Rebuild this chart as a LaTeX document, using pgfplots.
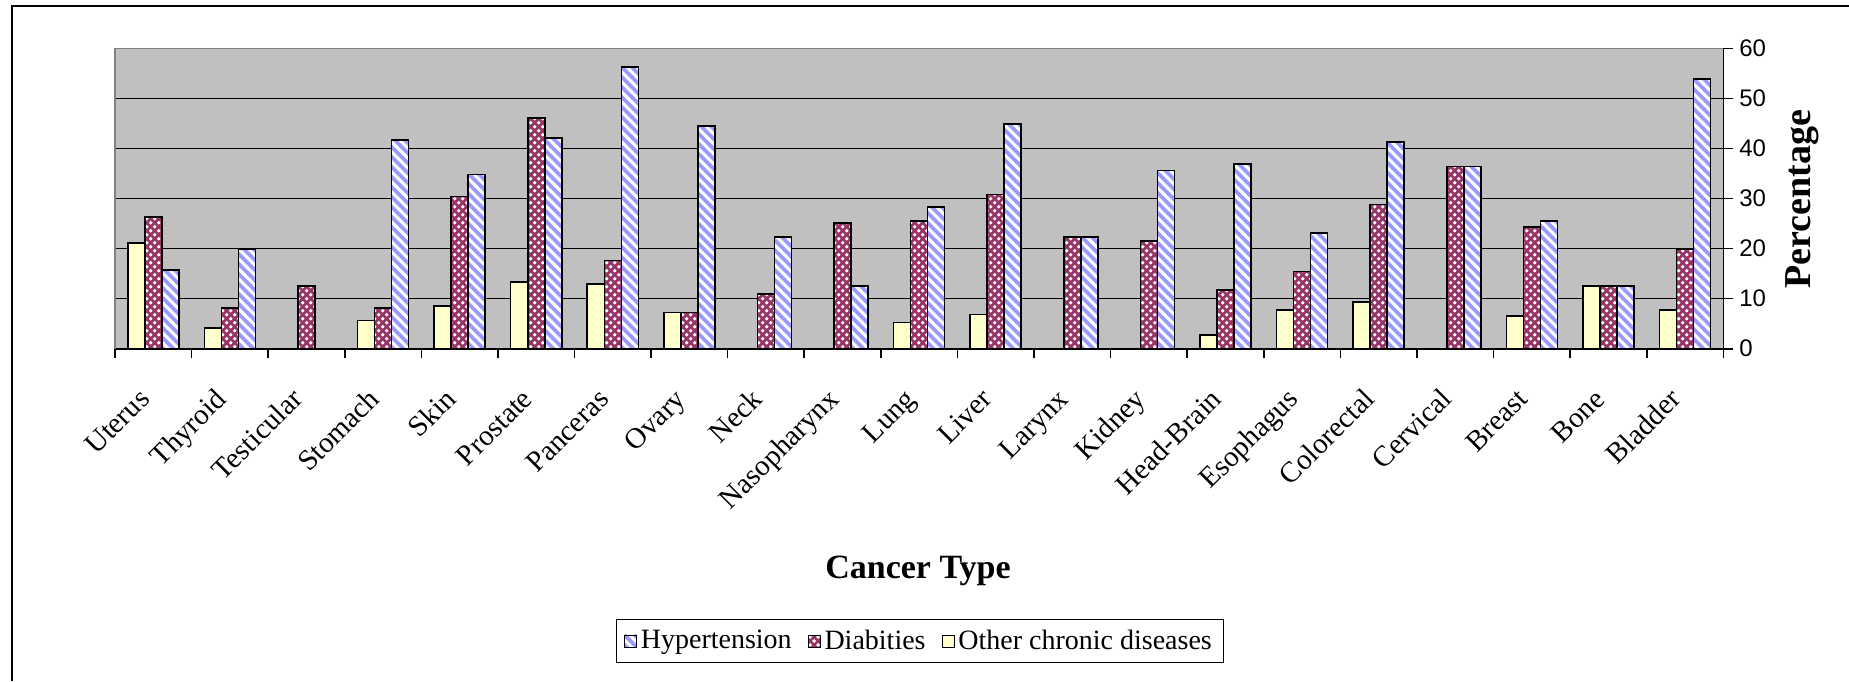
\documentclass[border=0pt]{standalone}
\usepackage{fontspec}
\setmainfont{Liberation Serif}
\newfontfamily\sansfont{Liberation Sans}
\usepackage{pgfplots}
\pgfplotsset{compat=1.18}

\definecolor{plotgray}{HTML}{C0C0C0}
\definecolor{framegray}{HTML}{808080}
\definecolor{hypblue}{HTML}{9999FF}
\definecolor{diabred}{HTML}{993366}
\definecolor{otheryellow}{HTML}{FFFFCC}

\tikzset{
  fillline/.style={path picture={}, fill=none, solid, line cap=butt},
  % white fill with blue diagonal stripes
  hypbar/.style={fill=white, draw=black,
    path picture={
      \foreach \k in {0,...,200}{
        \draw[fillline, draw=hypblue, line width=1.8pt]
          ([xshift=\k*5pt-160pt]path picture bounding box.north west) -- ++(170pt,-170pt);
      }}},
  % maroon fill with rows of white dots
  diabbar/.style={fill=diabred, draw=black,
    path picture={
      \foreach \j in {0,...,30}{
        \draw[fillline, draw=white, line width=1.9pt, line cap=round, dash pattern=on 0pt off 4pt]
          ([xshift=1pt, yshift=\j*4pt+1pt]path picture bounding box.south west)
          -- ([xshift=4pt, yshift=\j*4pt+1pt]path picture bounding box.south east);
        \draw[fillline, draw=white, line width=1.9pt, line cap=round, dash pattern=on 0pt off 4pt]
          ([xshift=3pt, yshift=\j*4pt+3pt]path picture bounding box.south west)
          -- ([xshift=4pt, yshift=\j*4pt+3pt]path picture bounding box.south east);
      }}},
  otherbar/.style={fill=otheryellow, draw=black},
}

\begin{document}
\begin{tikzpicture}
% outer chart frame
\draw[black, line width=1pt] (6pt,-340.5pt) -- (6pt,-2.75pt) -- (924.5pt,-2.75pt);
\begin{axis}[
  at={(57.5pt,-174.35pt)}, anchor=south west,
  scale only axis, width=804.15pt, height=150.1pt,
  xmin=-0.5, xmax=20.5, ymin=0, ymax=60,
  axis x line*=bottom, axis y line*=right,
  axis line style={-, black, line width=0.8pt},
  axis background/.style={fill=plotgray},
  tick align=outside,
  % visible tick marks are the minor ones; major ticks only carry labels and grid
  major tick length=0pt,
  minor tick length=4.8pt,
  tick style={black, line width=0.8pt},
  xtick={0,1,...,20},
  xticklabels={Uterus,Thyroid,Testicular,Stomach,Skin,Prostate,Panceras,Ovary,Neck,Nasopharynx,Lung,Liver,Larynx,Kidney,Head-Brain,Esophagus,Colorectal,Cervical,Breast,Bone,Bladder},
  minor xtick={-0.5,0.5,...,20.5},
  xticklabel style={font=\fontsize{14.5pt}{16pt}\selectfont, inner sep=0pt, anchor=base east, xshift=-1pt, yshift=-26pt, rotate=45},
  ytick={0,10,...,60},
  minor ytick={0,10,...,60},
  yticklabel style={font=\sansfont\fontsize{12pt}{14pt}\selectfont, anchor=west, xshift=4.5pt},
  /pgf/number format/assume math mode=true,
  ymajorgrids, grid style={black, line width=0.5pt},
  legend image code/.code={\draw[#1] (0pt,-3pt) rectangle (6pt,3pt);},
  legend style={at={(0.5005,-0.9737)}, anchor=center, legend columns=3,
    draw=black, line width=0.5pt, font=\fontsize{14pt}{16pt}\selectfont,
    inner xsep=4pt, inner ysep=3pt,
    /tikz/every even column/.append style={column sep=6pt}},
  clip=false,
]
% Other chronic diseases
\addplot[ybar, bar width=0.2222, bar shift=-0.2222, line width=0.8pt, otherbar, forget plot]
  coordinates {(0,21.1) (1,4.1) (3,5.6) (4,8.5) (5,13.3) (6,12.9) (7,7.2) (10,5.2)
               (11,6.8) (14,2.8) (15,7.7) (16,9.3) (18,6.5) (19,12.5) (20,7.7)};
% Diabities
\addplot[ybar, bar width=0.2222, bar shift=0, line width=0.8pt, diabbar, forget plot]
  coordinates {(0,26.3) (1,8.1) (2,12.5) (3,8.1) (4,30.4) (5,46.1) (6,17.6) (7,7.2)
               (8,10.9) (9,25.1) (10,25.5) (11,30.8) (12,22.3) (13,21.5) (14,11.7)
               (15,15.4) (16,28.8) (17,36.4) (18,24.3) (19,12.5) (20,19.9)};
% Hypertension
\addplot[ybar, bar width=0.2222, bar shift=0.2222, line width=0.8pt, hypbar, forget plot]
  coordinates {(0,15.7) (1,19.8) (3,41.7) (4,34.8) (5,42.1) (6,56.3) (7,44.5) (8,22.3)
               (9,12.5) (10,28.3) (11,44.9) (12,22.3) (13,35.6) (14,36.9) (15,23.1)
               (16,41.3) (17,36.4) (18,25.5) (19,12.5) (20,53.9)};

\addlegendimage{line width=0.4pt, hypbar}
\addlegendentry{Hypertension}
\addlegendimage{line width=0.4pt, diabbar}
\addlegendentry{Diabities}
\addlegendimage{line width=0.4pt, otherbar}
\addlegendentry{Other chronic diseases}

% plot-area border on the top and left
\draw[framegray, line width=0.8pt] (rel axis cs:0,0) -- (rel axis cs:0,1) -- (rel axis cs:1,1);

\node[font=\bfseries\fontsize{17pt}{20pt}\selectfont] at (axis description cs:0.4993,-0.7405) {Cancer Type};
\node[rotate=90, font=\bfseries\fontsize{19pt}{22pt}\selectfont] at (axis description cs:1.0489,0.4987) {Percentage};
\end{axis}
\pgfresetboundingbox
\path[use as bounding box] (0pt,0pt) rectangle (924.5pt,-340.5pt);
\end{tikzpicture}
\end{document}
